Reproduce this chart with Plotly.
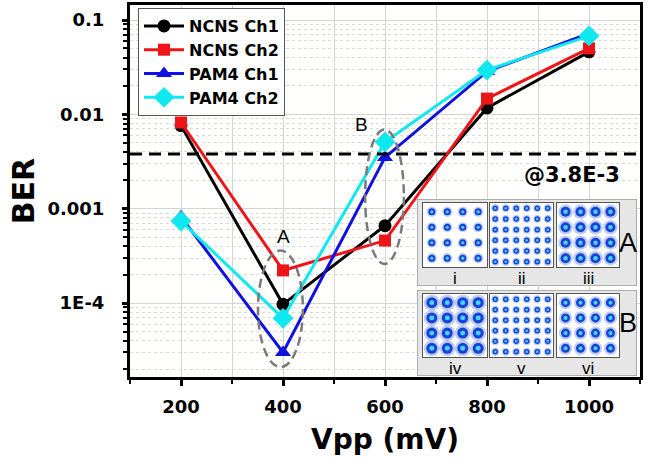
import numpy as np
import plotly.graph_objects as go

W, H = 657, 463
ML, MR, MT, MB = 130, 17, 5, 86

# ---------------- data ----------------
vpp = [200, 400, 600, 800, 1000]
ncns_ch1 = [7.6e-3, 9.7e-5, 6.6e-4, 1.17e-2, 4.6e-2]
ncns_ch2 = [8.2e-3, 2.22e-4, 4.6e-4, 1.47e-2, 5.0e-2]
pam4_ch1 = [8.2e-4, 3.0e-5, 3.5e-3, 2.85e-2, 7.2e-2]
pam4_ch2 = [7.4e-4, 6.9e-5, 5.1e-3, 2.95e-2, 6.8e-2]
series_names = ["NCNS Ch1", "NCNS Ch2", "PAM4 Ch1", "PAM4 Ch2"]
threshold = 3.8e-3
threshold_label = "@3.8E-3"
y_tickvals = [1e-4, 1e-3, 1e-2, 1e-1]
y_ticktext = ["1E-4", "0.001", "0.01", "0.1"]
x_tickvals = [200, 400, 600, 800, 1000]

# constellation insets (levels per axis)
levels_16 = [-3, -1, 1, 3]
levels_36 = [-5, -3, -1, 1, 3, 5]
inset_labels = ["i", "ii", "iii", "iv", "v", "vi"]
inset_levels = [levels_16, levels_36, levels_16, levels_16, levels_36, levels_16]
inset_msize = [7, 5.5, 10, 11, 5.5, 9]

BOLD = dict(family="DejaVu Sans", weight="bold", color="black")

PW, PH = W - ML - MR, H - MT - MB

def px(x):
    return (x - ML) / PW

def py(y):
    return (H - MB - y) / PH

fig = go.Figure()

styles = [
    dict(color="black", symbol="circle", size=13),
    dict(color="#ee1418", symbol="square", size=12),
    dict(color="#1010e0", symbol="triangle-up", size=14),
    dict(color="#10e8f0", symbol="diamond", size=16),
]
for name, vals, st in zip(series_names, [ncns_ch1, ncns_ch2, pam4_ch1, pam4_ch2], styles):
    fig.add_trace(go.Scatter(
        x=vpp, y=vals, name=name, mode="lines+markers",
        line=dict(color=st["color"], width=3),
        marker=dict(color=st["color"], symbol=st["symbol"], size=st["size"]),
        xaxis="x", yaxis="y",
    ))

# ---------------- inset panels ----------------
panel_dom = [
    ([px(417), px(637)], [py(286), py(199)]),
    ([px(417), px(637)], [py(376), py(290)]),
]
box_x = [[px(423), px(487)], [px(490), px(553)], [px(557), px(619)]]
box_y = [[py(267), py(203)], [py(357), py(294)]]

layout_axes = {}
for i, (xd, yd) in enumerate(panel_dom):
    n = i + 2
    layout_axes[f"xaxis{n}"] = dict(domain=xd, range=[0, 1], visible=False, fixedrange=True, anchor=f"y{n}")
    layout_axes[f"yaxis{n}"] = dict(domain=yd, range=[0, 1], visible=False, fixedrange=True, anchor=f"x{n}")
    fig.add_shape(type="rect", xref=f"x{n}", yref=f"y{n}", x0=0, x1=1, y0=0, y1=1,
                  fillcolor="#e6e6e6", line=dict(color="#9a9a9a", width=1.5), layer="below")
    fig.add_trace(go.Scatter(x=[0.5], y=[0.5], xaxis=f"x{n}", yaxis=f"y{n}", mode="markers",
                             marker=dict(opacity=0), showlegend=False, hoverinfo="skip"))

for k in range(6):
    n = k + 4
    row, col = divmod(k, 3)
    lv = inset_levels[k]
    lim = max(lv) * (1.38 if len(lv) == 4 else 1.2)
    ax_common = dict(showgrid=False, zeroline=False, showticklabels=False, ticks="",
                     showline=True, mirror=True, linecolor="#555555", linewidth=1.2,
                     fixedrange=True, range=[-lim, lim])
    layout_axes[f"xaxis{n}"] = dict(domain=box_x[col], anchor=f"y{n}", **ax_common)
    layout_axes[f"yaxis{n}"] = dict(domain=box_y[row], anchor=f"x{n}", **ax_common)
    gx, gy = np.meshgrid(lv, lv)
    gx, gy = gx.ravel(), gy.ravel()
    s = inset_msize[k]
    for size, color in [(s * 1.45, "rgba(60,110,230,0.35)"), (s, "#1c3fd6"), (s * 0.45, "#40d8ff")]:
        fig.add_trace(go.Scatter(x=gx, y=gy, xaxis=f"x{n}", yaxis=f"y{n}", mode="markers",
                                 marker=dict(size=size, color=color, line=dict(width=0)),
                                 showlegend=False, hoverinfo="skip"))
    lab_y = 278 if row == 0 else 368
    fig.add_annotation(x=sum(box_x[col]) / 2, y=py(lab_y), xref="paper", yref="paper",
                       xanchor="center", yanchor="middle",
                       text=inset_labels[k], showarrow=False,
                       font=dict(family="Liberation Sans", size=17, color="black"))

for lab, yy in [("A", 243), ("B", 323)]:
    fig.add_annotation(x=px(628), y=py(yy), xref="paper", yref="paper", text=lab, showarrow=False,
                       xanchor="center", yanchor="middle",
                       font=dict(family="Liberation Sans", size=27, color="black"))

# ---------------- threshold, ellipses, labels ----------------
fig.add_shape(type="line", xref="paper", yref="y", x0=0, x1=1, y0=threshold, y1=threshold,
              line=dict(color="black", width=3, dash="12px,7px"))
fig.add_annotation(x=px(572), y=py(175), xref="paper", yref="paper", text=threshold_label,
                   xanchor="center", yanchor="middle",
                   showarrow=False, font=dict(size=21, **BOLD))

fig.add_shape(type="circle", xref="x", yref="y", x0=351, x1=439, y0=2.1e-5, y1=3.6e-4,
              line=dict(color="#7a7a7a", width=2.5, dash="9px,5px"))
fig.add_shape(type="circle", xref="x", yref="y", x0=561, x1=637, y0=2.6e-4, y1=6.9e-3,
              line=dict(color="#7a7a7a", width=2.5, dash="9px,5px"))
fig.add_annotation(x=400, y=np.log10(5.1e-4), xref="x", yref="y", text="A", showarrow=False,
                   font=dict(family="Liberation Sans", size=19, color="black"))
fig.add_annotation(x=553, y=np.log10(7.8e-3), xref="x", yref="y", text="B", showarrow=False,
                   font=dict(family="Liberation Sans", size=19, color="black"))

fig.update_layout(
    width=W, height=H,
    margin=dict(l=ML, r=MR, t=MT, b=MB, autoexpand=False),
    paper_bgcolor="#ffffff", plot_bgcolor="#fffffe",
    showlegend=True,
    legend=dict(x=px(138), y=py(8), xanchor="left", yanchor="top",
                bgcolor="white", bordercolor="#555555", borderwidth=1,
                font=dict(size=16, **BOLD), itemwidth=40, tracegroupgap=0),
    xaxis=dict(
        domain=[0, 1], anchor="y", range=[100, 1100], tickvals=x_tickvals,
        ticks="outside", ticklen=6, tickwidth=2.5, tickcolor="black",
        showline=True, linewidth=3, linecolor="black", mirror=True,
        showgrid=True, gridcolor="#d4d4d4", gridwidth=1, zeroline=False,
        tickfont=dict(size=18, **BOLD), ticklabelstandoff=5,
        minor=dict(dtick=100, tick0=100, ticks="outside", ticklen=4, tickwidth=2, tickcolor="black",
                   showgrid=True, gridcolor="#d4d4d4", gridwidth=1),
        title=dict(text="Vpp (mV)", font=dict(size=28, **BOLD), standoff=14),
    ),
    yaxis=dict(
        domain=[0, 1], anchor="x", type="log", range=[-4.783, -0.841],
        tickvals=y_tickvals, ticktext=y_ticktext,
        ticks="outside", ticklen=5, tickwidth=2.5, tickcolor="black",
        showline=True, linewidth=3, linecolor="black", mirror=True,
        showgrid=True, gridcolor="#d4d4d4", gridwidth=1, zeroline=False,
        tickfont=dict(size=18, **BOLD), ticklabelstandoff=14,
        minor=dict(dtick="D1", ticks="outside", ticklen=4, tickwidth=2, tickcolor="black",
                   showgrid=True, gridcolor="#dadada", griddash="dot", gridwidth=1),
        title=dict(text="BER", font=dict(size=30, **BOLD), standoff=4),
    ),
    **layout_axes,
)

fig.write_html("out.html", config={"displayModeBar": False},
               post_script="document.body.style.margin='0';document.body.style.padding='0';")
